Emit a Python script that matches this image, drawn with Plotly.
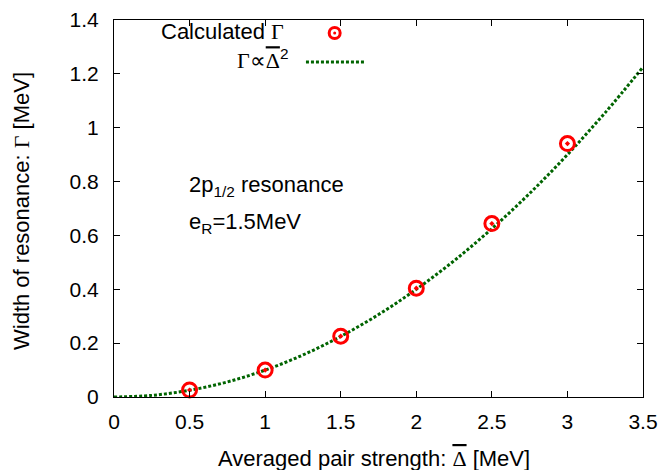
import plotly.graph_objects as go

# Calculated widths
delta_pts = [0.5, 1.0, 1.5, 2.0, 2.5, 3.0]
gamma_pts = [0.026, 0.100, 0.226, 0.404, 0.644, 0.941]

# Fitted curve Gamma ∝ Delta^2
delta_fit = [0, 0.25, 0.5, 0.75, 1.0, 1.25, 1.5, 1.75, 2.0, 2.25, 2.5, 2.75, 3.0, 3.25, 3.5]
gamma_fit = [0, 0.006, 0.025, 0.056, 0.100, 0.156, 0.225, 0.306, 0.400, 0.506, 0.625, 0.756, 0.900, 1.056, 1.225]

x_ticks = [0, 0.5, 1, 1.5, 2, 2.5, 3, 3.5]
x_tick_labels = ["0", "0.5", "1", "1.5", "2", "2.5", "3", "3.5"]
y_ticks = [0, 0.2, 0.4, 0.6, 0.8, 1.0, 1.2, 1.4]
y_tick_labels = ["0", "0.2", "0.4", "0.6", "0.8", "1", "1.2", "1.4"]

FONT = "Liberation Sans, Arial, Helvetica, sans-serif"
SERIF = "Liberation Serif"
FS_TICK = 21
FS = 22
RED = "#ff0000"
GREEN = "#006400"

GAMMA = '<span style="font-family:%s">\u0393</span>' % SERIF
DELTA_BAR = '<span style="font-family:%s;text-decoration:overline">\u0394</span>' % SERIF
PROP = '<span style="font-family:%s">\u221d</span>' % SERIF

fig = go.Figure()
fig.add_trace(go.Scatter(
    x=delta_fit, y=gamma_fit, mode="lines",
    line=dict(color=GREEN, width=3, dash="3px,2px", shape="spline"),
    showlegend=False, hoverinfo="skip"))
fig.add_trace(go.Scatter(
    x=delta_pts, y=gamma_pts, mode="markers",
    marker=dict(symbol="circle-open-dot", size=14, color=RED, line=dict(color=RED, width=3)),
    showlegend=False, cliponaxis=False))

axis_common = dict(
    showgrid=False, zeroline=False, showline=True, linecolor="black", linewidth=1,
    mirror="ticks", ticks="inside", ticklen=6, tickwidth=1, tickcolor="black",
    tickfont=dict(family=FONT, size=FS_TICK, color="black"), automargin=False,
)

fig.update_xaxes(range=[0, 3.5], tickvals=x_ticks, ticktext=x_tick_labels,
                 ticklabelstandoff=6, **axis_common)
fig.update_yaxes(range=[0, 1.4], tickvals=y_ticks, ticktext=y_tick_labels,
                 ticklabelstandoff=10, **axis_common)

txtfont = dict(family=FONT, size=FS, color="black")

L, R, T, B = 114, 643, 20, 397
PW, PH = R - L, B - T

# axis titles
fig.add_annotation(x=(374 - L) / PW, y=(B - 458) / PH, xref="paper", yref="paper",
                   text="Averaged pair strength: " + DELTA_BAR + " [MeV]",
                   showarrow=False, xanchor="center", yanchor="middle", font=txtfont)
fig.add_annotation(x=(22 - L) / PW, y=(B - 211) / PH, xref="paper", yref="paper",
                   text="Width of resonance: " + GAMMA + " [MeV]", textangle=-90,
                   showarrow=False, xanchor="center", yanchor="middle", font=txtfont)

# manual gnuplot-style key (text left, sample right)
fig.add_annotation(x=1.14, y=1.357, xref="x", yref="y", text="Calculated " + GAMMA,
                   showarrow=False, xanchor="right", yanchor="middle", font=txtfont)
fig.add_annotation(x=1.165, y=1.255, xref="x", yref="y",
                   text=GAMMA + PROP + DELTA_BAR + "<sup>2</sup>",
                   showarrow=False, xanchor="right", yanchor="middle", font=txtfont)
fig.add_shape(type="circle", xref="x", yref="y", x0=-5.5, x1=5.5, y0=-5.5, y1=5.5,
              xsizemode="pixel", ysizemode="pixel", xanchor=1.46, yanchor=1.352,
              line=dict(color=RED, width=3))
fig.add_shape(type="circle", xref="x", yref="y", x0=-1.5, x1=1.5, y0=-1.5, y1=1.5,
              xsizemode="pixel", ysizemode="pixel", xanchor=1.46, yanchor=1.352,
              fillcolor=RED, line=dict(color=RED, width=0))
fig.add_shape(type="line", xref="x", yref="y", x0=1.27, x1=1.66, y0=1.244, y1=1.244,
              line=dict(color=GREEN, width=3, dash="3px,2px"))

fig.add_annotation(x=0.48, y=0.785, xref="x", yref="y", text="2p<sub>1/2</sub> resonance",
                   showarrow=False, xanchor="left", yanchor="middle", font=txtfont)
fig.add_annotation(x=0.48, y=0.648, xref="x", yref="y", text="e<sub>R</sub>=1.5MeV",
                   showarrow=False, xanchor="left", yanchor="middle", font=txtfont)

fig.update_layout(
    width=662, height=470,
    margin=dict(l=L, r=662 - R, t=T, b=470 - B),
    paper_bgcolor="white", plot_bgcolor="white",
    showlegend=False,
)

fig.write_html("out.html")
